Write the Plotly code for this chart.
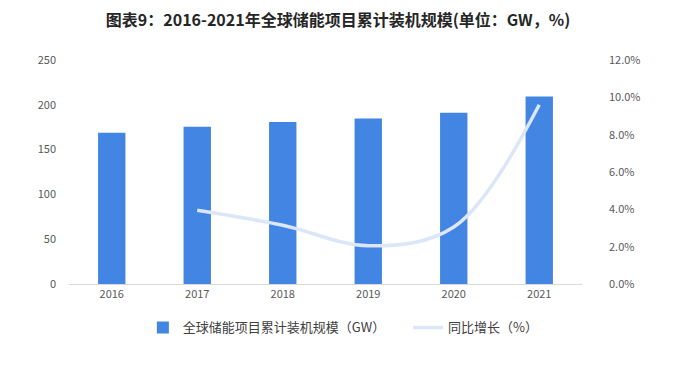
import plotly.graph_objects as go

years = ["2016", "2017", "2018", "2019", "2020", "2021"]
capacity_gw = [168.7, 175.4, 180.9, 184.6, 191.1, 209.4]
growth_years = ["2017", "2018", "2019", "2020", "2021"]
growth_pct = [3.95, 3.15, 2.05, 3.05, 9.6]

y1_ticks = [0, 50, 100, 150, 200, 250]
y2_ticks = [0, 2, 4, 6, 8, 10, 12]
y2_labels = ["0.0%", "2.0%", "4.0%", "6.0%", "8.0%", "10.0%", "12.0%"]

font_family = "Noto Sans CJK SC, Noto Sans, sans-serif"
tick_color = "#595959"

fig = go.Figure()
fig.add_trace(go.Bar(
    x=years, y=capacity_gw, name="全球储能项目累计装机规模（GW）",
    marker=dict(color="#4285e3", line=dict(width=0)), width=0.32,
    hoverinfo="skip", legend="legend",
))
fig.add_trace(go.Scatter(
    x=growth_years, y=growth_pct, name="同比增长（%）", yaxis="y2",
    mode="lines", line=dict(color="#dbe6f8", width=3.5, shape="spline", smoothing=1.0),
    hoverinfo="skip", legend="legend2",
))

legend_common = dict(
    orientation="h", y=-0.127, yanchor="top",
    font=dict(size=13, color="#404040", family=font_family),
    itemwidth=30, bgcolor="rgba(0,0,0,0)",
)

fig.update_layout(
    width=660, height=374,
    margin=dict(l=61, r=86, t=52, b=98),
    paper_bgcolor="white", plot_bgcolor="white",
    font=dict(family=font_family, size=11, color=tick_color),
    title=dict(
        text="<b>图表9：2016-2021年全球储能项目累计装机规模(单位：GW，%)</b>",
        x=0.5, xanchor="center", y=0.968, yanchor="middle",
        font=dict(size=16, color="#262626", family=font_family),
    ),
    xaxis=dict(
        type="category", showgrid=False, showline=True, linecolor="#d9d9d9",
        linewidth=1, ticks="", tickfont=dict(size=11, color=tick_color),
        fixedrange=True,
    ),
    yaxis=dict(
        range=[0, 250], tickvals=y1_ticks, showgrid=False, zeroline=False,
        showline=False, ticks="", ticklen=0, tickfont=dict(size=11, color=tick_color),
        ticklabelstandoff=12,
    ),
    yaxis2=dict(
        range=[0, 12], tickvals=y2_ticks, ticktext=y2_labels, overlaying="y",
        side="right", showgrid=False, zeroline=False, showline=False,
        tickfont=dict(size=11, color=tick_color), ticklabelstandoff=26,
    ),
    bargap=0.68,
    legend=dict(x=0.144, xanchor="left", **legend_common),
    legend2=dict(x=0.661, xanchor="left", **legend_common),
    showlegend=True,
)

fig.write_html("out.html")
